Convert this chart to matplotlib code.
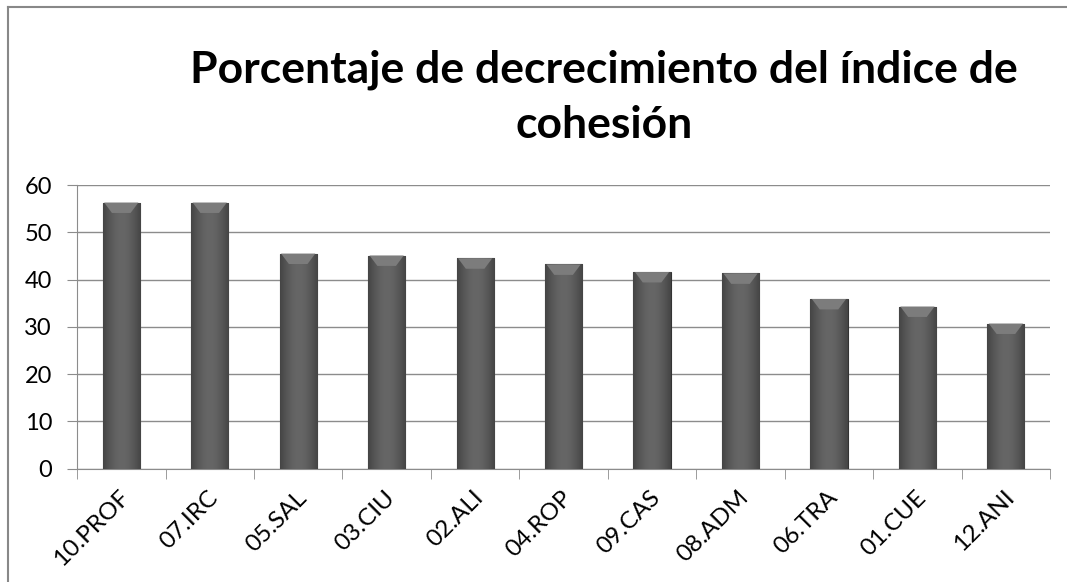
import matplotlib
matplotlib.use("Agg")
import matplotlib.pyplot as plt
import numpy as np

plt.rcParams['font.family'] = ['Lato', 'DejaVu Sans']

categories = ['10.PROF', '07.IRC', '05.SAL', '03.CIU', '02.ALI', '04.ROP',
              '09.CAS', '08.ADM', '06.TRA', '01.CUE', '12.ANI']
values = [56.3, 56.3, 45.5, 45.1, 44.5, 43.2, 41.6, 41.3, 35.9, 34.3, 30.7]
title_lines = ['Porcentaje de decrecimiento del índice de', 'cohesión']

fig = plt.figure(figsize=(10.67, 5.82), dpi=100)
# outer chart frame (left and top visible)
fig.add_artist(plt.Line2D([0.0075, 0.0075], [0.0, 0.988], color='#888888', lw=1.5))
fig.add_artist(plt.Line2D([0.0075, 1.0], [0.988, 0.988], color='#888888', lw=1.5))

ax = fig.add_axes([0.0722, 0.1947, 0.912, 0.4873])
x = np.arange(len(categories))
bars = ax.bar(x, values, width=0.42, color='#555555', edgecolor='#333333', lw=0.8, zorder=3)

# horizontal gradient inside each bar
grad = np.linspace(0, 1, 64)
shade = 0.27 + 0.13 * np.sin(grad * np.pi)
img = np.tile(shade, (2, 1))
for b in bars:
    x0, y0 = b.get_x(), b.get_y()
    w, h = b.get_width(), b.get_height()
    im = ax.imshow(img, cmap='gray', vmin=0, vmax=1, aspect='auto',
                   extent=[x0, x0 + w, y0, y0 + h], zorder=4, interpolation='bicubic')
    im.set_clip_path(b)
    # bevel at top
    ax.fill([x0 + w * 0.04, x0 + w * 0.96, x0 + w * 0.75, x0 + w * 0.25],
            [y0 + h, y0 + h, y0 + h - 2.2, y0 + h - 2.2],
            color='#7c7c7c', zorder=5, lw=0)

ax.set_xlim(-0.5, len(categories) - 0.5)
ax.set_ylim(0, 60)
ax.set_yticks(range(0, 61, 10))
ax.yaxis.grid(True, color='#8c8c8c', lw=1.0, zorder=0)
ax.set_axisbelow(True)
for s in ['top', 'right']:
    ax.spines[s].set_visible(False)
ax.spines['left'].set_color('#8c8c8c')
ax.spines['bottom'].set_color('#8c8c8c')

ax.set_xticks(x - 0.03)
ax.set_xticklabels(categories, rotation=45, ha='right', rotation_mode='anchor', fontsize=17.5)
ax.tick_params(axis='x', length=0, pad=13)
ax.set_xticks(np.arange(-0.5, len(categories)), minor=True)
ax.tick_params(axis='x', which='minor', length=7, color='#8c8c8c')
ax.tick_params(axis='y', length=7, color='#8c8c8c', labelsize=17, pad=11)

# title, two centred lines
fig.text(0.566, 0.859, title_lines[0], ha='center', va='baseline', fontsize=32, fontweight='bold')
fig.text(0.566, 0.763, title_lines[1], ha='center', va='baseline', fontsize=32, fontweight='bold')

fig.savefig('out.png', dpi=100)
